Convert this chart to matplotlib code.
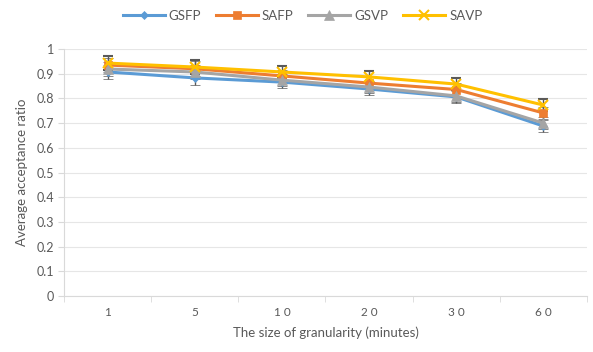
import matplotlib
matplotlib.use("Agg")
import matplotlib.pyplot as plt
from matplotlib.lines import Line2D
import numpy as np

categories = ["1", "5", "10", "20", "30", "60"]
gsfp = [0.907, 0.883, 0.866, 0.838, 0.806, 0.688]
safp = [0.935, 0.920, 0.891, 0.862, 0.836, 0.741]
gsvp = [0.919, 0.907, 0.874, 0.846, 0.810, 0.700]
savp = [0.943, 0.927, 0.907, 0.887, 0.858, 0.773]
err = [0.03, 0.03, 0.025, 0.025, 0.025, 0.025]

series = [
    ("GSFP", gsfp, "#5B9BD5", "D", 4),
    ("SAFP", safp, "#ED7D31", "s", 6),
    ("GSVP", gsvp, "#A5A5A5", "^", 7),
    ("SAVP", savp, "#FFC000", "x", 7),
]

plt.rcParams["font.family"] = ["Lato", "DejaVu Sans"]
txt = "#595959"

fig = plt.figure(figsize=(5.93, 3.52), dpi=100)
ax = fig.add_axes([64 / 593, 56 / 352, 523 / 593, 247 / 352])

x = np.arange(len(categories))
handles = []
for name, vals, col, mk, ms in series:
    mew = 1.5 if mk == "x" else 0.5
    ax.errorbar(x, vals, yerr=err, color=col, lw=2.2, marker=mk, ms=ms,
                mew=mew, mec=col, mfc=col,
                ecolor="#595959", elinewidth=1, capsize=3.5, capthick=1,
                zorder=3)
    handles.append(Line2D([], [], color=col, lw=2.2, marker=mk, ms=ms,
                          mew=mew, mec=col, mfc=col, label=name))

ax.set_ylim(0, 1)
ax.set_xlim(-0.5, len(categories) - 0.5)
ax.set_yticks(np.arange(0, 1.01, 0.1))
ax.set_yticklabels(["0", "0.1", "0.2", "0.3", "0.4", "0.5", "0.6", "0.7", "0.8", "0.9", "1"])
ax.set_xticks(x)
ax.set_xticklabels([" ".join(c) for c in categories])
ax.set_xticks(np.arange(-0.5, len(categories), 1), minor=True)
ax.tick_params(axis="x", which="major", length=0, pad=8, labelsize=8.5, colors=txt)
ax.tick_params(axis="x", which="minor", length=4, color="#D9D9D9")
ax.tick_params(axis="y", length=4, color="#D9D9D9", labelsize=9, colors=txt, pad=3)

ax.grid(axis="y", color="#E6E6E6", lw=0.8, zorder=0)
for s in ["top", "right"]:
    ax.spines[s].set_visible(False)
for s in ["left", "bottom"]:
    ax.spines[s].set_color("#D9D9D9")

ax.set_xlabel("The size of granularity (minutes)", color=txt, fontsize=9.5, labelpad=6)
ax.set_ylabel("Average acceptance ratio", color=txt, fontsize=9.5, labelpad=6)

fig.legend(handles=handles, loc="upper center", bbox_to_anchor=(0.51, 1.005), ncol=4,
           frameon=False, fontsize=9.5, handlelength=3.2, columnspacing=1.1,
           handletextpad=0.3, labelcolor=txt)

fig.savefig("out.png", dpi=100)
